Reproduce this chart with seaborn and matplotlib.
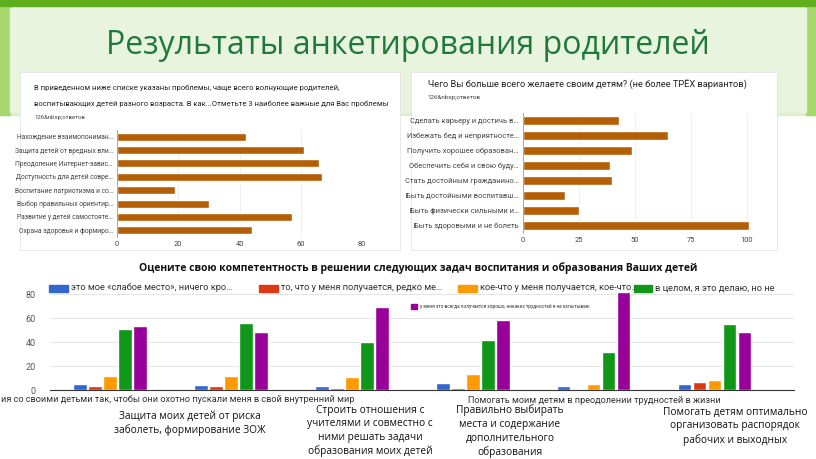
import numpy as np
import pandas as pd
import matplotlib
matplotlib.use("Agg")
import matplotlib.pyplot as plt
from matplotlib.patches import Rectangle
import seaborn as sns

# data
problems = ["Нахождение взаимопониман…", "Защита детей от вредных вли…",
            "Преодоление Интернет-завис…", "Доступность для детей совре…",
            "Воспитание патриотизма и со…", "Выбор правильных ориентир…",
            "Развитие у детей самостояте…", "Охрана здоровья и формиро…"]
problem_counts = [42, 61, 66, 67, 19, 30, 57, 44]

wishes = ["Сделать карьеру и достичь в…", "Избежать бед и неприятносте…",
          "Получить хорошее образован…", "Обеспечить себя и свою буду…",
          "Стать достойным гражданино…", "Быть достойными воспитавш…",
          "Быть физически сильными и…", "Быть здоровыми и не болеть"]
wish_counts = [43, 65, 49, 39, 40, 19, 25, 101]

tasks = ["Выстраивать отношения со своими детьми так, чтобы они охотно пускали меня в свой внутренний мир",
         "Защита моих детей от риска заболеть, формирование ЗОЖ",
         "Строить отношения с учителями и совместно с ними решать задачи образования моих детей",
         "Правильно выбирать места и содержание дополнительного образования",
         "Помогать моим детям в преодолении трудностей в жизни",
         "Помогать детям оптимально организовать распорядок рабочих и выходных"]
# chart axis shows only part of the first label (cut by the slide edge) and the fifth
first_label_visible = "ия со своими детьми так, чтобы они охотно пускали меня в свой внутренний мир"
levels = ["это мое «слабое место», ничего кро…",
          "то, что у меня получается, редко ме…",
          "кое-что у меня получается, кое-что…",
          "в целом, я это делаю, но не",
          "у меня это всегда получается хорошо, никаких трудностей я не испытываю"]
weak = [5, 4, 3, 6, 3, 5]
rarely = [3, 3, 2, 2, 1, 7]
partly = [12, 12, 11, 13, 5, 8]
mostly = [51, 56, 40, 42, 32, 55]
always = [53, 48, 69, 58, 82, 48]

W, H = 816, 459
def fx(x): return x / W
def fy(y): return 1 - y / H

sns.set_theme(style="white")
plt.rcParams['font.family'] = ['Roboto', 'DejaVu Sans']
slide_font = ["Open Sans", "DejaVu Sans"]

fig = plt.figure(figsize=(8.16, 4.59), dpi=100)
fig.patch.set_facecolor("white")

# slide background
fig.add_artist(Rectangle((0, fy(115)), 1, 115 / H, transform=fig.transFigure,
                         color="#dcefca", zorder=-5))
fig.add_artist(Rectangle((0, fy(115)), fx(10), 115 / H, transform=fig.transFigure,
                         color="#a7d86e", zorder=-4))
fig.add_artist(Rectangle((fx(806), fy(115)), fx(10), 115 / H, transform=fig.transFigure,
                         color="#a7d86e", zorder=-4))
fig.add_artist(Rectangle((0, fy(6)), 1, 6 / H, transform=fig.transFigure,
                         color="#5fae1e", zorder=-4))
fig.add_artist(Rectangle((fx(10), fy(112)), fx(796), 104 / H, transform=fig.transFigure,
                         color="#e8f4de", zorder=-4))
fig.text(fx(408), fy(45), "Результаты анкетирования родителей", ha="center", va="center",
         fontsize=23, color="#1f7a3a", family=slide_font)

# chart panels
fig.add_artist(Rectangle((fx(20), fy(250)), fx(380), 178 / H, transform=fig.transFigure,
                         facecolor="white", edgecolor="#e4e4e4", lw=0.6, zorder=-3))
fig.add_artist(Rectangle((fx(411), fy(250)), fx(366), 178 / H, transform=fig.transFigure,
                         facecolor="white", edgecolor="#e4e4e4", lw=0.6, zorder=-3))

brown = "#b45f06"

def hbar(ax, labels, counts, xmax, ticks, width, labelsize):
    df = pd.DataFrame({"label": labels, "count": counts})
    sns.barplot(data=df, y="label", x="count", color=brown, saturation=1,
                width=width, ax=ax)
    ax.set_xlim(0, xmax)
    ax.set_xticks(ticks)
    ax.set_xlabel("")
    ax.set_ylabel("")
    ax.set_facecolor("white")
    ax.grid(axis="x", color="#ebebeb", lw=0.6)
    ax.set_axisbelow(True)
    for s in ["top", "right", "bottom"]:
        ax.spines[s].set_visible(False)
    ax.spines["left"].set_color("#999999")
    ax.spines["left"].set_linewidth(0.6)
    ax.tick_params(axis="y", length=0, labelsize=labelsize, labelcolor="#444444", pad=3)
    ax.tick_params(axis="x", length=0, labelsize=5.4, labelcolor="#444444", pad=3)

ax1 = fig.add_axes([fx(117), fy(237), 245 / W, 107 / H])
hbar(ax1, problems, problem_counts, 80, [0, 20, 40, 60, 80], 0.6, 4.8)
fig.text(fx(34), fy(88), "В приведенном ниже списке указаны проблемы, чаще всего волнующие родителей,",
         fontsize=5.5, color="#222222", va="center")
fig.text(fx(34), fy(104), "воспитывающих детей разного возраста. В как...Отметьте 3 наиболее важные для Вас проблемы",
         fontsize=5.5, color="#222222", va="center")
fig.text(fx(34), fy(117), "126&nbsp;ответов", fontsize=4.3, color="#444444", va="center")

ax2 = fig.add_axes([fx(522.7), fy(233), 244 / W, 120 / H])
hbar(ax2, wishes, wish_counts, 109, [0, 25, 50, 75, 100], 0.62, 5.4)
fig.text(fx(428), fy(85), "Чего Вы больше всего желаете своим детям? (не более ТРЁХ вариантов)",
         fontsize=6.7, color="#222222", va="center")
fig.text(fx(428), fy(97), "126&nbsp;ответов", fontsize=4.5, color="#444444", va="center")

# grouped chart
fig.text(fx(418), fy(268),
         "Оцените свою компетентность в решении следующих задач воспитания и образования Ваших детей",
         ha="center", va="center", fontsize=7.5, fontweight="bold", color="#111111",
         family=slide_font)

palette = ["#3366cc", "#dc3912", "#ff9900", "#109618", "#990099"]
long_df = pd.DataFrame({
    "task": np.tile(tasks, 5),
    "level": np.repeat(levels, 6),
    "value": weak + rarely + partly + mostly + always,
})
ax3 = fig.add_axes([fx(49.5), fy(390), 744 / W, 100.8 / H])
sns.barplot(data=long_df, x="task", y="value", hue="level", order=tasks,
            hue_order=levels, palette=palette, saturation=1, width=0.62, gap=0.12,
            ax=ax3, legend=False)
ax3.set_xlim(-0.5, 5.65)
ax3.set_ylim(0, 84)
ax3.set_yticks([0, 20, 40, 60, 80])
ax3.set_xlabel("")
ax3.set_ylabel("")
ax3.set_facecolor("none")
ax3.grid(axis="y", color="#e6e6e6", lw=0.7)
ax3.set_axisbelow(True)
for s in ["top", "right", "left"]:
    ax3.spines[s].set_visible(False)
ax3.spines["bottom"].set_color("#333333")
ax3.spines["bottom"].set_linewidth(0.8)
ax3.tick_params(axis="y", length=0, labelsize=6.5, labelcolor="#555555", pad=10)
ax3.tick_params(axis="x", length=0, labelsize=6.6, labelcolor="#333333", pad=4)
ax3.set_xticks(range(6))
ax3.set_xticklabels(["", "", "", "", tasks[4], ""])
fig.text(fx(1), fy(399.5), first_label_visible, fontsize=6.6, color="#333333",
         ha="left", va="center")

# legend row drawn as in the screenshot (Google Charts style)
legend_pos = [(49, 68), (259, 278), (458, 477), (634, 652)]
for (x0, x1), col, lab in zip(legend_pos, palette[:4], levels[:4]):
    fig.add_artist(Rectangle((fx(x0), fy(291.5)), fx(x1 - x0), 7 / H,
                             transform=fig.transFigure, color=col))
    fig.text(fx(x1 + 3), fy(288), lab, fontsize=6.7, color="#333333", va="center")
fig.add_artist(Rectangle((fx(411), fy(309)), fx(6), 5 / H,
                         transform=fig.transFigure, color=palette[4]))
fig.text(fx(420), fy(306.5), levels[4], fontsize=3.4, color="#333333", va="center")

# slide captions under the chart
caps = [
    (190, 410, "Защита моих детей от риска\nзаболеть, формирование ЗОЖ"),
    (370, 404.5, "Строить отношения с\nучителями и совместно с\nними решать задачи\nобразования моих детей"),
    (510, 404.5, "Правильно выбирать\nместа и содержание\nдополнительного\nобразования"),
    (735, 406.5, "Помогать детям оптимально\nорганизовать распорядок\nрабочих и выходных"),
]
for x, y, t in caps:
    fig.text(fx(x), fy(y), t, ha="center", va="top", fontsize=7.3,
             linespacing=1.33, color="#111111", family=slide_font)

fig.savefig("out.png", dpi=100, facecolor=fig.get_facecolor())
